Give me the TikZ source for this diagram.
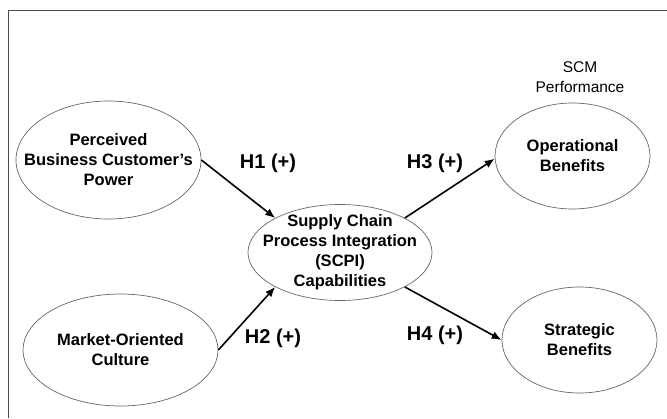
\documentclass[tikz,border=0pt]{standalone}
\usepackage{fontspec}
\setmainfont{Liberation Sans}
\usetikzlibrary{shapes.geometric,arrows.meta}
\tikzset{
    construct/.style={draw=black!60,line width=0.7pt,ellipse,inner sep=0pt,
        label={[align=center,font=\fontsize{16.5}{20}\selectfont\bfseries]center:#1}},
    hypo/.style={font=\fontsize{20}{22}\selectfont\bfseries},
    link/.style={-{Latex[length=10pt,width=8pt]},line width=1.6pt},
}

\begin{document}
\begin{tikzpicture}[x=1pt,y=-1pt]
    \useasboundingbox (0,0) rectangle (667,418);
    \draw[black!70,line width=0.9pt] (8,418) -- (8,10) -- (667,10);

    \node[construct={Perceived\\Business Customer’s\\Power},
        minimum width=185,minimum height=118] (power) at (108.5,160) {};
    \node[construct={Market-Oriented\\Culture},
        minimum width=195,minimum height=112] (culture) at (120.5,350) {};
    \node[construct={Supply Chain\\Process Integration\\(SCPI)\\Capabilities},
        minimum width=184,minimum height=96] (scpi) at (340,252.5) {};
    \node[construct={Operational\\Benefits},
        minimum width=155,minimum height=106] (operational) at (572.5,156) {};
    \node[construct={Strategic\\Benefits},
        minimum width=155,minimum height=106] (strategic) at (579.5,340) {};

    \node[align=center,font=\fontsize{15.5}{20}\selectfont]
        (scm) at (580,77) {SCM\\Performance};

    \draw[link] (power.east) -- (scpi.152);
    \draw[link] (culture.east) -- (scpi.208);
    \draw[link] (scpi.28) -- (operational.182);
    \draw[link] (scpi.-28) -- (strategic.west);

    \node[hypo] (h1) at (268,163) {H1 (+)};
    \node[hypo] (h2) at (273,338) {H2 (+)};
    \node[hypo] (h3) at (435,163) {H3 (+)};
    \node[hypo] (h4) at (435,335) {H4 (+)};
\end{tikzpicture}
\end{document}
